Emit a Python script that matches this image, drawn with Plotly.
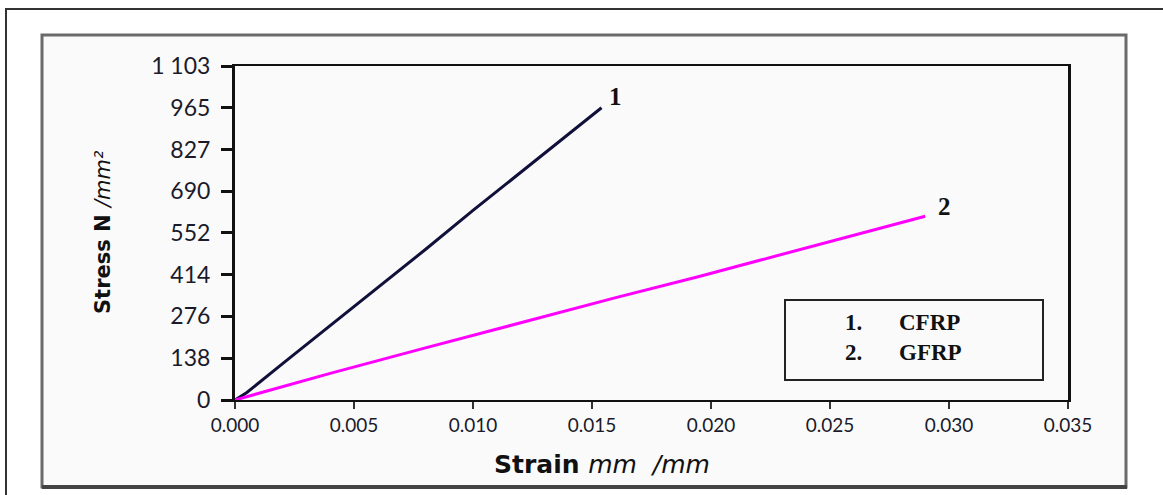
import plotly.graph_objects as go

# Stress-strain readings for the two laminates
cfrp_strain = [0.0, 0.0005, 0.002, 0.004, 0.006, 0.008, 0.010, 0.012, 0.014, 0.0154]
cfrp_stress = [0, 25, 120, 245, 372, 497, 626, 752, 876, 965]
gfrp_strain = [0.0, 0.004, 0.008, 0.012, 0.016, 0.0195, 0.024, 0.029]
gfrp_stress = [0, 88, 172, 256, 338, 408, 503, 607]

x_ticks = [0.000, 0.005, 0.010, 0.015, 0.020, 0.025, 0.030, 0.035]
x_tick_text = ["0.000", "0.005", "0.010", "0.015", "0.020", "0.025", "0.030", "0.035"]
y_ticks = [0, 138, 276, 414, 552, 690, 827, 965, 1103]
y_tick_text = ["0", "138", "276", "414", "552", "690", "827", "965", "1 103"]

key_numbers = ["1.", "2."]
key_names = ["CFRP", "GFRP"]

W, H = 1163, 495
L, R, T, B = 235, 95, 66, 95
pw, ph = W - L - R, H - T - B


def px(x):
    return (x - L) / pw


def py(y):
    return (H - B - y) / ph


fig = go.Figure()
fig.add_trace(go.Scatter(x=cfrp_strain, y=cfrp_stress, mode="lines",
                         line=dict(color="#10103a", width=3), name="CFRP"))
fig.add_trace(go.Scatter(x=gfrp_strain, y=gfrp_stress, mode="lines",
                         line=dict(color="#ff00ff", width=3), name="GFRP"))

serif_bold = dict(family="Liberation Serif", size=25, color="#111111")
fig.add_annotation(x=cfrp_strain[-1], y=cfrp_stress[-1], text="<b>1</b>", showarrow=False,
                   xanchor="left", yanchor="bottom", xshift=5, yshift=-4, font=serif_bold)
fig.add_annotation(x=gfrp_strain[-1], y=gfrp_stress[-1], text="<b>2</b>", showarrow=False,
                   xanchor="left", yanchor="bottom", xshift=11, yshift=-6, font=serif_bold)

# key box: numbers column and names column
key_font = dict(family="Liberation Serif", size=23, color="#111111")
fig.add_shape(type="rect", xref="paper", yref="paper",
              x0=px(785), x1=px(1043), y0=py(380), y1=py(300),
              line=dict(color="#222222", width=2), fillcolor="#fafafa")
fig.add_annotation(xref="paper", yref="paper", x=px(843), y=py(337),
                   text="<br>".join("<b>" + n + "</b>" for n in key_numbers),
                   showarrow=False, xanchor="left", yanchor="middle", align="left",
                   font=key_font)
fig.add_annotation(xref="paper", yref="paper", x=px(897), y=py(337),
                   text="<br>".join("<b>" + n + "</b>" for n in key_names),
                   showarrow=False, xanchor="left", yanchor="middle", align="left",
                   font=key_font)

# outer and inner frames
fig.add_shape(type="rect", xref="paper", yref="paper", layer="below",
              x0=px(6), x1=px(1220), y0=py(520), y1=py(9),
              line=dict(color="#333333", width=2), fillcolor="white")
fig.add_shape(type="rect", xref="paper", yref="paper", layer="below",
              x0=px(42), x1=px(1126), y0=py(487), y1=py(35),
              line=dict(color="#6a6a6a", width=3), fillcolor="#fafafa")
fig.add_shape(type="line", xref="paper", yref="paper",
              x0=px(42), x1=px(1127), y0=py(487), y1=py(487),
              line=dict(color="#444444", width=4))

fig.add_annotation(xref="paper", yref="paper", x=px(103), y=py(232),
                   text="<b>Stress N </b><i>/mm²</i>", textangle=-90, showarrow=False,
                   xanchor="center", yanchor="middle",
                   font=dict(family="DejaVu Sans", size=21, color="#111111"))
fig.add_annotation(xref="paper", yref="paper", x=px(602), y=py(464),
                   text="<b>Strain </b><i>mm  /mm</i>", showarrow=False,
                   xanchor="center", yanchor="middle",
                   font=dict(family="DejaVu Sans", size=25, color="#111111"))

fig.update_xaxes(range=[0, 0.035], tickvals=x_ticks, ticktext=x_tick_text,
                 showgrid=False, zeroline=False, showline=True, linecolor="#111111",
                 linewidth=2, mirror=True, ticks="outside", ticklen=7, tickwidth=2,
                 tickcolor="#333333", ticklabelstandoff=0,
                 tickfont=dict(family="Lato", size=19, color="#1a1a2a"))
fig.update_yaxes(range=[0, 1103], tickvals=y_ticks, ticktext=y_tick_text,
                 showgrid=False, zeroline=False, showline=True, linecolor="#111111",
                 linewidth=3, mirror=True, ticks="outside", ticklen=11, tickwidth=3,
                 tickcolor="#111111", ticklabelstandoff=6,
                 tickfont=dict(family="Lato", size=23, color="#1a1a2a"))

fig.update_layout(width=W, height=H, margin=dict(l=L, r=R, t=T, b=B),
                  paper_bgcolor="white", plot_bgcolor="#fafafa", showlegend=False)

fig.write_html("out.html")
